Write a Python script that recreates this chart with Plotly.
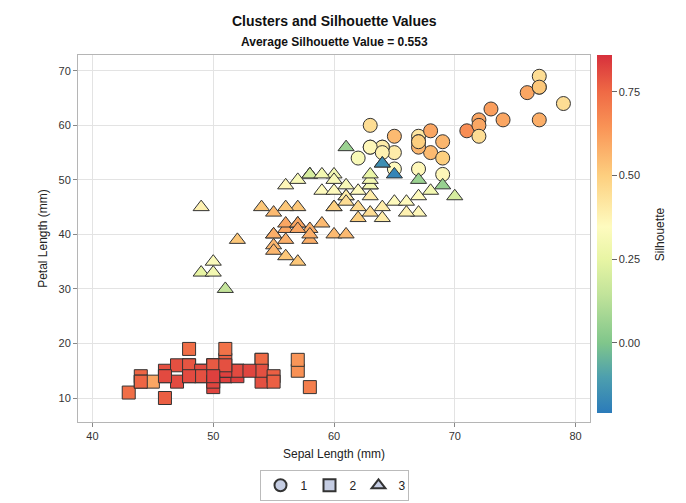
import plotly.graph_objects as go

# ---- data (sepal length, petal length in mm; silhouette values) ----
c1_sepal = [63, 71, 63, 65, 76, 73, 67, 72, 68, 65, 77, 77, 69, 77, 67, 72,
            64, 72, 74, 79, 64, 77, 63, 64, 69, 67, 69, 68, 67, 67, 65, 62]
c1_petal = [60, 59, 56, 58, 66, 63, 58, 61, 55, 55, 67, 69, 57, 67, 57, 60,
            56, 58, 61, 64, 56, 61, 56, 55, 54, 56, 51, 59, 57, 52, 52, 54]
c1_sil = [0.45, 0.66, 0.38, 0.55, 0.60, 0.62, 0.42, 0.60, 0.55, 0.40, 0.55, 0.45, 0.56, 0.52, 0.50, 0.60,
          0.40, 0.45, 0.60, 0.45, 0.40, 0.58, 0.36, 0.38, 0.50, 0.56, 0.36, 0.60, 0.50, 0.36, 0.35, 0.32]

c2_sepal = [51, 49, 47, 46, 50, 54, 46, 50, 44, 49, 54, 48, 48, 43, 58, 57, 54, 51, 57, 51,
            54, 51, 46, 51, 48, 50, 50, 52, 52, 47, 48, 54, 52, 55, 49, 50, 55, 49, 44, 51,
            50, 45, 44, 50, 51, 48, 51, 46, 53, 50]
c2_petal = [14, 14, 13, 15, 14, 17, 14, 15, 14, 15, 15, 16, 14, 11, 12, 15, 13, 14, 17, 15,
            17, 15, 10, 17, 19, 16, 16, 15, 14, 16, 16, 15, 15, 14, 15, 12, 13, 14, 13, 15,
            13, 13, 13, 16, 19, 14, 16, 14, 15, 14]
c2_sil = [0.83, 0.80, 0.81, 0.80, 0.83, 0.74, 0.81, 0.83, 0.76, 0.81, 0.80, 0.79, 0.81, 0.74, 0.70, 0.65,
          0.80, 0.83, 0.64, 0.83, 0.75, 0.82, 0.77, 0.77, 0.74, 0.80, 0.80, 0.83, 0.83, 0.80, 0.79, 0.80,
          0.81, 0.77, 0.81, 0.82, 0.77, 0.80, 0.76, 0.83, 0.82, 0.60, 0.76, 0.78, 0.73, 0.81, 0.80, 0.81,
          0.82, 0.83]

c3_sepal = [70, 64, 69, 55, 65, 57, 63, 49, 66, 52, 50, 59, 60, 61, 56, 67, 56, 58, 62, 56,
            59, 61, 63, 61, 64, 66, 68, 67, 60, 57, 55, 55, 58, 60, 54, 60, 67, 63, 56, 55,
            55, 61, 58, 50, 56, 57, 57, 62, 51, 57,
            58, 58, 58, 49, 57, 60, 56, 63, 62, 61, 60, 59, 63, 63, 61, 64, 64, 65]
c3_petal = [47, 45, 49, 40, 46, 45, 47, 33, 46, 39, 35, 42, 40, 47, 36, 44, 45, 41, 45, 39,
            48, 40, 49, 47, 43, 44, 48, 50, 45, 35, 38, 37, 39, 51, 45, 45, 47, 44, 41, 40,
            44, 46, 40, 33, 42, 42, 42, 43, 30, 41,
            51, 51, 51, 45, 50, 50, 49, 49, 48, 49, 48, 51, 50, 51, 56, 53, 53, 51]
c3_sil = [0.20, 0.40, 0.05, 0.58, 0.35, 0.52, 0.40, 0.25, 0.35, 0.52, 0.33, 0.55, 0.55, 0.40, 0.52, 0.36,
          0.52, 0.58, 0.46, 0.58, 0.35, 0.55, 0.30, 0.40, 0.40, 0.38, 0.30, 0.06, 0.50, 0.52, 0.56, 0.56,
          0.58, 0.30, 0.52, 0.50, 0.35, 0.45, 0.60, 0.58, 0.55, 0.45, 0.58, 0.30, 0.60, 0.60, 0.60, 0.50,
          0.15, 0.60,
          0.18, 0.18, 0.20, 0.38, 0.32, 0.32, 0.36, 0.30, 0.35, 0.32, 0.35, 0.30, 0.30, 0.26, 0.06, -0.15,
          -0.15, -0.18]

cluster_names = ["1", "2", "3"]
x_ticks = [40, 50, 60, 70, 80]
y_ticks = [10, 20, 30, 40, 50, 60, 70]
cb_ticks = [0.0, 0.25, 0.50, 0.75]
cb_ticktext = ["0.00", "0.25", "0.50", "0.75"]

CMIN, CMAX = -0.21, 0.86
cscale = [
    [0.0, "#2b7bba"],
    [0.10, "#4d9fae"],
    [0.196, "#80c68b"],
    [0.33, "#c1e39a"],
    [0.43, "#e8f5a4"],
    [0.52, "#fefbbf"],
    [0.663, "#fdcf7f"],
    [0.80, "#f99356"],
    [0.897, "#ef6a45"],
    [1.0, "#d7303c"],
]

FONT = "Arial, 'Liberation Sans', sans-serif"
fig = go.Figure()

groups = [
    (c1_sepal, c1_petal, c1_sil, "circle", 14),
    (c2_sepal, c2_petal, c2_sil, "square", 13),
    (c3_sepal, c3_petal, c3_sil, "triangle-up", 14),
]
for i, (xs, ys, ss, sym, sz) in enumerate(groups):
    fig.add_trace(go.Scatter(
        x=xs, y=ys, mode="markers", showlegend=False,
        marker=dict(symbol=sym, size=sz, color=ss, cmin=CMIN, cmax=CMAX,
                    colorscale=cscale, showscale=(i == 0),
                    line=dict(color="#333333", width=1),
                    colorbar=dict(
                        thickness=15, lenmode="pixels", len=358, y=1, yanchor="top",
                        x=1.0137, xanchor="left", xpad=0, ypad=0, outlinewidth=0,
                        tickvals=cb_ticks, ticktext=cb_ticktext, ticks="outside",
                        ticklen=5, tickcolor="#666666",
                        tickfont=dict(family=FONT, size=11, color="#333333"),
                    )),
        hovertemplate="%{x}, %{y}<extra></extra>",
    ))

# legend entries
for name, (_, _, _, sym, _) in zip(cluster_names, groups):
    fig.add_trace(go.Scatter(
        x=[None], y=[None], mode="markers", name=name,
        marker=dict(symbol=sym, size=12, color="#c5cde3",
                    line=dict(color="#333333", width=1)),
    ))

fig.update_layout(
    width=686, height=503,
    margin=dict(l=78, r=96, t=55, b=81, autoexpand=False),
    paper_bgcolor="white", plot_bgcolor="white",
    font=dict(family=FONT, size=11, color="#333333"),
    showlegend=True,
    legend=dict(orientation="h", x=0.5, xanchor="center",
                yref="container", y=0.066, yanchor="top",
                bordercolor="#bbbbbb", borderwidth=1, itemsizing="constant",
                font=dict(family=FONT, size=12, color="#222222"),
                entrywidth=4, entrywidthmode="pixels", itemwidth=30,
                tracegroupgap=0),
    annotations=[
        dict(text="<b>Clusters and Silhouette Values</b>", xref="paper", yref="paper",
             x=0.5, y=1, yshift=34, xanchor="center", yanchor="middle", showarrow=False,
             font=dict(family=FONT, size=14, color="#111111")),
        dict(text="<b>Average Silhouette Value = 0.553</b>", xref="paper", yref="paper",
             x=0.5, y=1, yshift=13, xanchor="center", yanchor="middle", showarrow=False,
             font=dict(family=FONT, size=12, color="#111111")),
        dict(text="Silhouette", xref="paper", yref="paper",
             x=1.137, y=0.512, xanchor="center", yanchor="middle", textangle=-90,
             showarrow=False, font=dict(family=FONT, size=12, color="#222222")),
    ],
)
axis_common = dict(showgrid=True, gridcolor="#e3e3e3", gridwidth=1, zeroline=False,
                   showline=True, mirror=True, linecolor="#b5b5b5", linewidth=1,
                   ticks="outside", ticklen=4, tickcolor="#888888", automargin=False,
                   tickfont=dict(family=FONT, size=11, color="#333333"))
fig.update_xaxes(range=[38.8, 81.2], tickvals=x_ticks,
                 title=dict(text="Sepal Length (mm)", standoff=8,
                            font=dict(family=FONT, size=12, color="#222222")),
                 **axis_common)
fig.update_yaxes(range=[5.6, 72.9], tickvals=y_ticks,
                 title=dict(text="Petal Length (mm)", standoff=8,
                            font=dict(family=FONT, size=12, color="#222222")),
                 **axis_common)

fig.write_html("out.html", config={"displayModeBar": False})

# remove the browser's default body margin so the figure sits at the page origin
with open("out.html", "r", encoding="utf-8") as f:
    html = f.read()
html = html.replace("<body>", '<body style="margin:0;padding:0;">', 1)
with open("out.html", "w", encoding="utf-8") as f:
    f.write(html)
